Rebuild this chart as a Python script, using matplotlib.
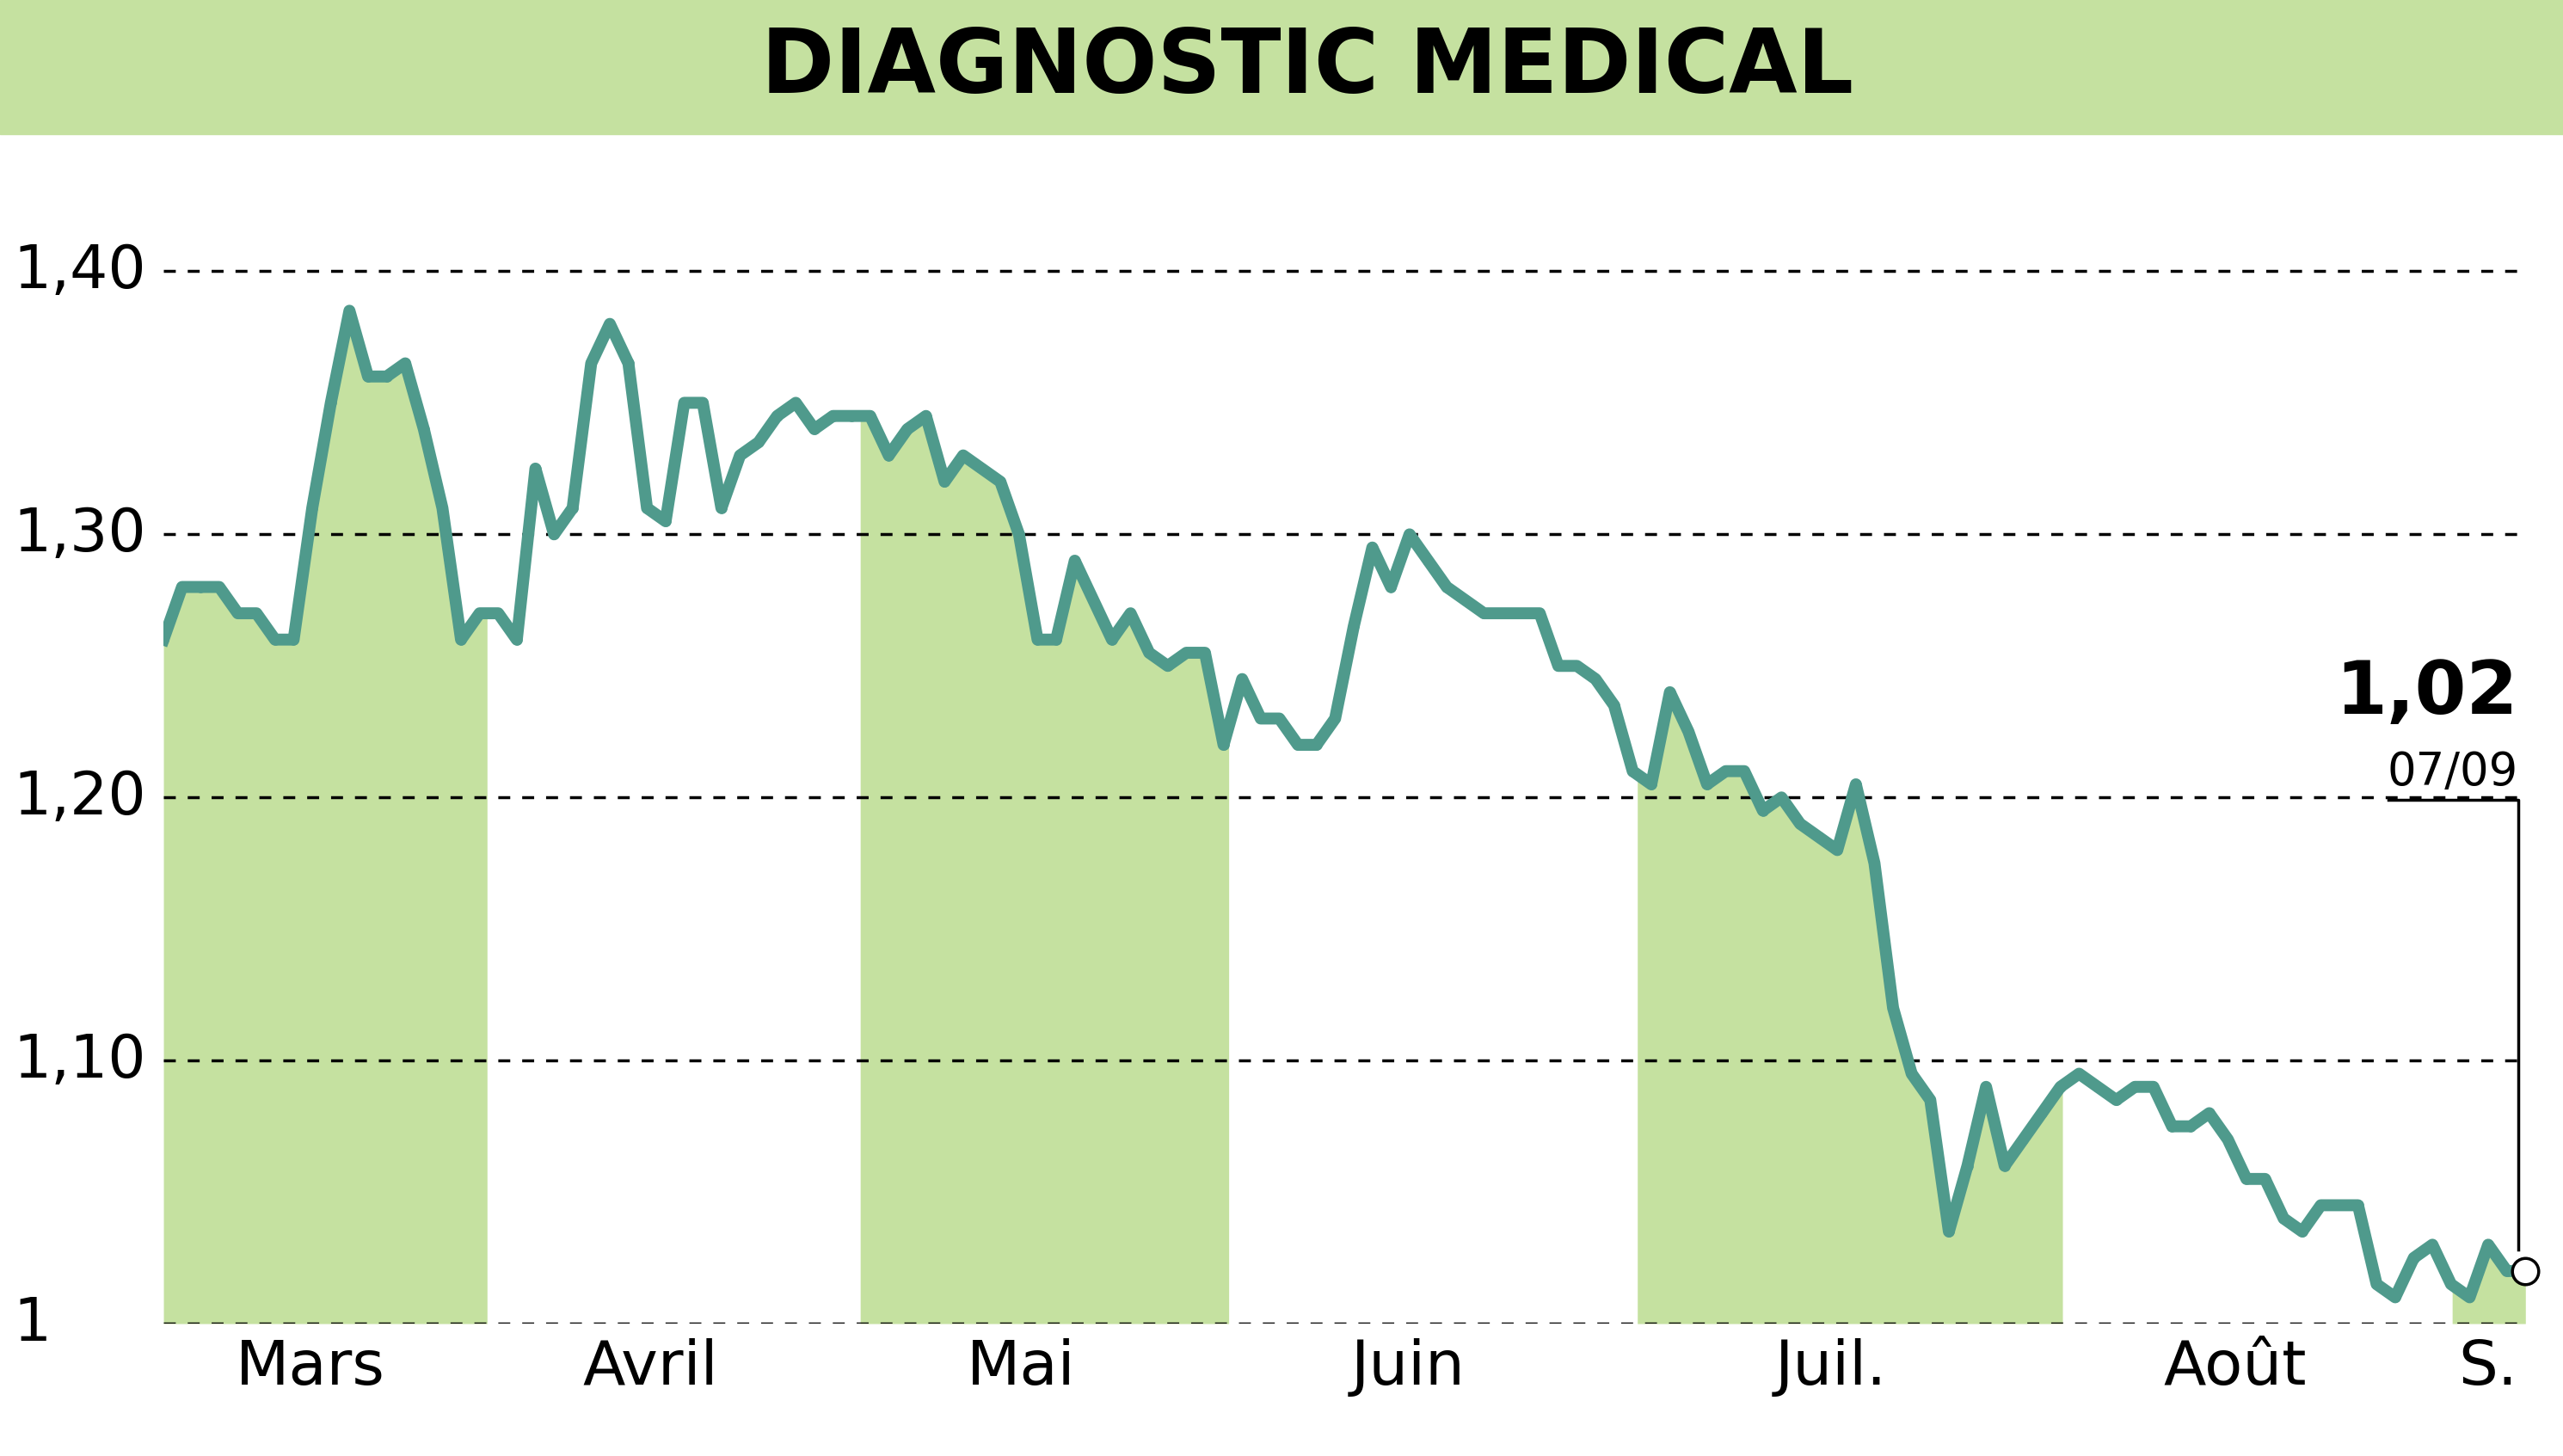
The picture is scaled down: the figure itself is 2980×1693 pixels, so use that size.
import matplotlib.pyplot as plt
import numpy as np

FONT = ['DejaVu Sans']

prices = [1.26, 1.28, 1.28, 1.28, 1.27, 1.27, 1.26, 1.26, 1.31, 1.35, 1.385, 1.36, 1.36, 1.365,
          1.34, 1.31, 1.26, 1.27, 1.27, 1.26, 1.325, 1.30, 1.31, 1.365, 1.38, 1.365, 1.31, 1.305,
          1.35, 1.35, 1.31, 1.33, 1.335, 1.345, 1.35, 1.34, 1.345, 1.345, 1.345, 1.33, 1.34, 1.345,
          1.32, 1.33, 1.325, 1.32, 1.30, 1.26, 1.26, 1.29, 1.275, 1.26, 1.27, 1.255, 1.25, 1.255,
          1.255, 1.22, 1.245, 1.23, 1.23, 1.22, 1.22, 1.23, 1.265, 1.295, 1.28, 1.30, 1.29, 1.28,
          1.275, 1.27, 1.27, 1.27, 1.27, 1.25, 1.25, 1.245, 1.235, 1.21, 1.205, 1.24, 1.225, 1.205,
          1.21, 1.21, 1.195, 1.20, 1.19, 1.185, 1.18, 1.205, 1.175, 1.12, 1.095, 1.085, 1.035, 1.06,
          1.09, 1.06, 1.07, 1.08, 1.09, 1.095, 1.09, 1.085, 1.09, 1.09, 1.075, 1.075, 1.08, 1.07,
          1.055, 1.055, 1.04, 1.035, 1.045, 1.045, 1.045, 1.015, 1.01, 1.025, 1.03, 1.015, 1.01,
          1.03, 1.02, 1.02]
months = ['Mars', 'Avril', 'Mai', 'Juin', 'Juil.', 'Août', 'S.']
# month boundaries and label positions as fraction of the time axis
month_bounds = [0.0, 0.137, 0.295, 0.451, 0.624, 0.804, 0.969, 1.0]
month_label_pos = [0.062, 0.206, 0.363, 0.527, 0.706, 0.877, 0.984]
yticks = [1.0, 1.1, 1.2, 1.3, 1.4]
ytick_labels = ['1', '1,10', '1,20', '1,30', '1,40']

LINE = '#4f9a8c'
FILL = '#c5e1a0'

x = np.linspace(0, 1, len(prices))
y = np.array(prices)

fig = plt.figure(figsize=(29.8, 16.93), dpi=100)
# title band
fig.patches.append(plt.Rectangle((0, 1 - 82 / 891), 1, 82 / 891, transform=fig.transFigure,
                                 color=FILL, zorder=0))
fig.text(0.51, 1 - 42 / 891, 'DIAGNOSTIC MEDICAL', ha='center', va='center',
         fontsize=74, fontweight='bold', family=FONT)

ax = fig.add_axes([100 / 1568, 81 / 891, 1445 / 1568, 729 / 891])
ax.set_xlim(0, 1)
ax.set_ylim(1.0, 1.0 + 729 / 1610)

for i in range(0, len(months), 2):
    lo, hi = month_bounds[i], month_bounds[i + 1]
    xs = np.linspace(lo, hi, 300)
    ax.fill_between(xs, 1.0, np.interp(xs, x, y), color=FILL, lw=0, zorder=1)

for t in yticks:
    ax.axhline(t, color='black', ls=(0, (4, 4)), lw=2.5, zorder=2)

ax.plot(x, y, color=LINE, lw=10, zorder=3, solid_joinstyle='round')
ax.plot(x, y, 'o', color=LINE, ms=8, zorder=3)
ax.plot(x[-1], y[-1], 'o', ms=22, mfc='white', mec='black', mew=2.5, zorder=5, clip_on=False)

# last value annotation
ax.plot([0.942, 0.997, 0.997], [1.199, 1.199, y[-1] + 0.008], color='black', lw=2.5, zorder=4,
        clip_on=False)
ax.text(0.997, 1.226, '1,02', ha='right', va='bottom', fontsize=62, fontweight='bold', family=FONT)
ax.text(0.997, 1.201, '07/09', ha='right', va='bottom', fontsize=38, family=FONT)

for s in ax.spines.values():
    s.set_visible(False)
ax.set_yticks([])
for t, lab in zip(yticks, ytick_labels):
    ax.text(-92 / 1445, t, lab, ha='left', va='center', fontsize=50, family=FONT,
            transform=ax.get_yaxis_transform())
ax.set_xticks(month_label_pos)
ax.set_xticklabels(months, family=FONT, fontsize=52)
ax.tick_params(axis='x', length=0, pad=12)

fig.savefig('out.png', dpi=100)
